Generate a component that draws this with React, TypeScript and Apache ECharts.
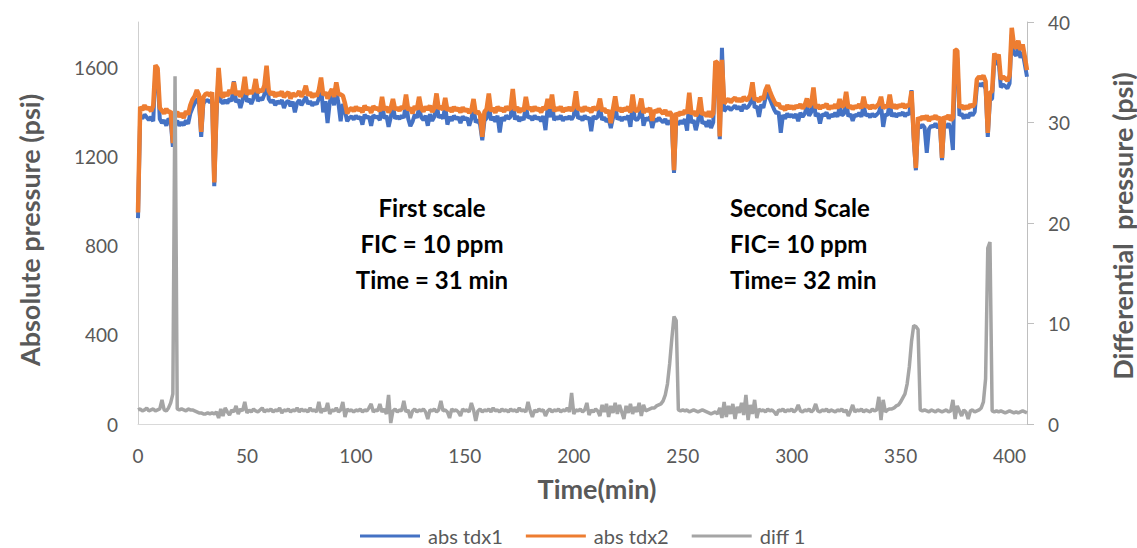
import React, { useEffect, useRef } from "react";
import * as echarts from "echarts";

// Sampled once per minute, t = 0 .. 408 min
const absTdx1: number[] = [
  925, 1385, 1372, 1390, 1378, 1365, 1380, 1360, 1590, 1575,
  1370, 1352, 1365, 1340, 1372, 1360, 1245, 1350, 1362, 1340,
  1355, 1342, 1365, 1348, 1395, 1420, 1440, 1462, 1440, 1290,
  1440, 1452, 1455, 1445, 1458, 1068, 1380, 1580, 1450, 1440,
  1455, 1440, 1462, 1450, 1540, 1445, 1458, 1420, 1455, 1530,
  1448, 1460, 1438, 1462, 1545, 1450, 1465, 1455, 1480, 1590,
  1460, 1445, 1455, 1432, 1450, 1440, 1455, 1420, 1445, 1452,
  1428, 1448, 1400, 1442, 1455, 1432, 1450, 1470, 1438, 1450,
  1430, 1445, 1436, 1462, 1520, 1400, 1450, 1352, 1445, 1480,
  1432, 1500, 1440, 1360, 1438, 1405, 1360, 1375, 1382, 1368,
  1385, 1372, 1380, 1345, 1390, 1375, 1382, 1340, 1388, 1378,
  1380, 1365, 1455, 1372, 1385, 1335, 1378, 1430, 1372, 1382,
  1370, 1386, 1375, 1450, 1372, 1338, 1358, 1390, 1375, 1420,
  1378, 1365, 1385, 1340, 1392, 1362, 1380, 1450, 1376, 1388,
  1372, 1430, 1345, 1380, 1362, 1385, 1370, 1378, 1352, 1382,
  1368, 1376, 1340, 1372, 1420, 1355, 1366, 1345, 1275, 1362,
  1375, 1440, 1365, 1380, 1358, 1385, 1310, 1378, 1362, 1386,
  1372, 1380, 1470, 1368, 1384, 1360, 1378, 1366, 1430, 1375,
  1382, 1365, 1386, 1370, 1378, 1360, 1384, 1320, 1420, 1378,
  1440, 1365, 1380, 1370, 1386, 1362, 1378, 1370, 1382, 1368,
  1385, 1460, 1372, 1380, 1364, 1386, 1370, 1378, 1315, 1384,
  1372, 1380, 1425, 1366, 1378, 1358, 1370, 1330, 1375, 1435,
  1368, 1380, 1362, 1378, 1370, 1385, 1335, 1440, 1372, 1365,
  1380, 1425, 1340, 1375, 1365, 1380, 1330, 1370, 1360, 1376,
  1364, 1355, 1370, 1345, 1362, 1350, 1128, 1358, 1345, 1362,
  1350, 1370, 1318, 1450, 1352, 1365, 1320, 1360, 1430, 1350,
  1358, 1335, 1365, 1330, 1355, 1600, 1590, 1280, 1690, 1405,
  1418, 1425, 1410, 1420, 1430, 1415, 1426, 1405, 1435, 1418,
  1425, 1440, 1520, 1420, 1428, 1380, 1435, 1420, 1465, 1490,
  1460, 1435, 1412, 1395, 1402, 1308, 1388, 1372, 1395, 1380,
  1390, 1376, 1392, 1360, 1398, 1380, 1394, 1428, 1385, 1402,
  1480, 1382, 1396, 1350, 1392, 1386, 1400, 1372, 1390, 1382,
  1398, 1380, 1425, 1386, 1394, 1455, 1382, 1392, 1362, 1390,
  1384, 1398, 1380, 1435, 1386, 1392, 1378, 1394, 1382, 1390,
  1400, 1432, 1335, 1392, 1386, 1445, 1382, 1396, 1380, 1394,
  1388, 1400, 1382, 1396, 1390, 1500, 1280, 1140, 1340, 1330,
  1345, 1332, 1218, 1325, 1340, 1335, 1350, 1330, 1342, 1185,
  1345, 1332, 1350, 1325, 1231, 1650, 1645, 1385, 1395, 1372,
  1390, 1375, 1398, 1386, 1402, 1515, 1528, 1520, 1532, 1505,
  1290, 1455, 1462, 1640, 1615, 1630, 1512, 1525, 1518, 1508,
  1530, 1750, 1665, 1655, 1690, 1645, 1672, 1615, 1560,
];

const absTdx2: number[] = [
  950, 1425, 1410, 1432, 1415, 1422, 1405, 1430, 1612, 1598,
  1420, 1408, 1395, 1416, 1400, 1405, 1262, 1390, 1402, 1380,
  1396, 1375, 1405, 1390, 1432, 1458, 1472, 1500, 1478, 1312,
  1468, 1482, 1486, 1474, 1490, 1085, 1410, 1600, 1482, 1468,
  1490, 1474, 1500, 1485, 1536, 1478, 1496, 1470, 1492, 1560,
  1480, 1498, 1485, 1500, 1550, 1488, 1502, 1494, 1520, 1610,
  1498, 1480, 1492, 1470, 1488, 1476, 1494, 1468, 1482, 1490,
  1462, 1486, 1474, 1480, 1495, 1470, 1488, 1520, 1476, 1490,
  1468, 1484, 1472, 1500, 1556, 1478, 1490, 1462, 1486, 1505,
  1470, 1535, 1482, 1480, 1475, 1440, 1395, 1412, 1420, 1405,
  1425, 1410, 1418, 1400, 1430, 1412, 1422, 1398, 1428, 1415,
  1420, 1405, 1470, 1410, 1425, 1400, 1418, 1460, 1412, 1422,
  1408, 1426, 1415, 1480, 1410, 1420, 1395, 1428, 1412, 1470,
  1418, 1404, 1425, 1412, 1430, 1402, 1420, 1485, 1415, 1428,
  1412, 1465, 1408, 1420, 1402, 1424, 1410, 1418, 1400, 1422,
  1406, 1415, 1398, 1410, 1460, 1395, 1405, 1388, 1290, 1402,
  1415, 1485, 1405, 1420, 1398, 1425, 1410, 1418, 1402, 1426,
  1412, 1420, 1505, 1408, 1424, 1400, 1418, 1406, 1470, 1415,
  1422, 1405, 1426, 1410, 1418, 1400, 1424, 1412, 1460, 1418,
  1480, 1405, 1420, 1410, 1426, 1402, 1418, 1410, 1422, 1408,
  1425, 1495, 1412, 1420, 1404, 1426, 1410, 1418, 1400, 1424,
  1412, 1420, 1462, 1406, 1418, 1398, 1410, 1352, 1415, 1472,
  1408, 1420, 1402, 1418, 1410, 1425, 1400, 1480, 1412, 1405,
  1420, 1462, 1398, 1415, 1405, 1420, 1362, 1410, 1400, 1416,
  1404, 1395, 1410, 1385, 1402, 1390, 1140, 1398, 1385, 1402,
  1390, 1410, 1395, 1488, 1392, 1405, 1385, 1400, 1468, 1390,
  1398, 1382, 1405, 1380, 1395, 1630, 1622, 1292, 1636, 1440,
  1452, 1460, 1445, 1458, 1466, 1450, 1462, 1448, 1470, 1455,
  1460, 1478, 1535, 1456, 1462, 1448, 1470, 1458, 1500, 1522,
  1495, 1470, 1450, 1432, 1440, 1418, 1425, 1410, 1432, 1418,
  1428, 1415, 1430, 1422, 1436, 1418, 1432, 1462, 1425, 1440,
  1512, 1420, 1434, 1416, 1430, 1424, 1438, 1415, 1428, 1420,
  1435, 1418, 1460, 1425, 1432, 1492, 1420, 1430, 1415, 1428,
  1422, 1436, 1418, 1470, 1425, 1430, 1416, 1432, 1420, 1428,
  1438, 1470, 1418, 1430, 1424, 1480, 1420, 1435, 1418, 1432,
  1426, 1438, 1420, 1434, 1428, 1495, 1300, 1150, 1378, 1365,
  1382, 1370, 1385, 1362, 1378, 1372, 1386, 1368, 1380, 1195,
  1382, 1370, 1388, 1365, 1376, 1682, 1678, 1420, 1432, 1415,
  1428, 1418, 1435, 1425, 1440, 1548, 1560, 1552, 1565, 1540,
  1308, 1488, 1495, 1665, 1640, 1660, 1548, 1560, 1552, 1542,
  1565, 1780, 1700, 1688, 1722, 1680, 1705, 1650, 1590,
];

const diff1: number[] = [
  1.4, 1.5, 1.3, 1.4, 1.6, 1.3, 1.4, 1.5, 1.3, 1.4,
  1.5, 2.4, 1.4, 1.3, 1.6, 2.1, 3.0, 34.6, 1.5, 1.4,
  1.5, 1.4, 1.3, 1.5, 1.4, 1.4, 1.3, 1.2, 1.1, 1.1,
  1.0, 1.0, 1.1, 1.0, 1.1, 1.0, 1.2, 0.6, 1.5, 0.8,
  1.6, 1.2, 0.9, 1.4, 1.2, 1.8, 1.0, 1.5, 1.3, 2.2,
  1.1, 1.4, 1.2, 1.5, 1.3, 1.2, 1.4, 1.6, 1.2, 1.4,
  1.3, 1.5, 1.2, 1.4, 1.3, 1.6, 1.1, 1.4, 1.3, 1.5,
  1.2, 1.4, 1.3, 1.6, 1.2, 1.5, 1.3, 1.4, 1.2, 1.6,
  1.3, 1.4, 1.2, 2.2, 1.1, 1.5, 1.3, 2.1, 1.0, 1.4,
  1.3, 1.6, 1.2, 1.4, 2.2, 0.7, 1.5, 1.3, 1.4, 1.2,
  1.4, 1.3, 1.5, 1.2, 1.4, 1.3, 1.6, 2.0, 1.2, 1.4,
  1.3, 2.0, 1.2, 1.5, 1.0, 2.9, 0.1, 1.3, 1.5, 1.2,
  1.4, 1.3, 2.3, 1.2, 1.4, 0.6, 1.3, 1.5, 1.2, 1.4,
  1.3, 1.5, 1.2, 0.5, 1.4, 1.3, 1.5, 1.2, 1.4, 2.3,
  1.3, 1.4, 1.2, 0.6, 1.5, 1.3, 1.4, 1.2, 0.8, 1.5,
  1.3, 1.4, 1.2, 2.1, 1.4, 0.3, 1.3, 1.5, 1.2, 1.4,
  1.3, 1.5, 1.2, 1.6, 1.3, 1.4, 1.2, 1.5, 1.3, 1.4,
  1.2, 1.5, 1.3, 1.4, 1.2, 1.6, 1.3, 1.4, 1.2, 2.2,
  1.3, 0.7, 1.4, 1.2, 1.5, 1.3, 1.4, 0.8, 1.3, 1.5,
  1.2, 1.4, 1.3, 1.5, 1.2, 1.4, 1.3, 1.6, 1.2, 3.1,
  1.0, 1.4, 1.3, 1.5, 1.2, 1.4, 2.1, 0.9, 1.4, 1.2,
  1.5, 1.3, 0.8, 1.9, 1.2, 2.0, 0.7, 1.8, 1.1, 2.1,
  1.0, 1.9, 1.2, 0.5, 1.8, 1.1, 2.0, 1.0, 1.7, 1.2,
  2.1, 0.8, 1.9, 1.3, 1.4, 1.5, 1.6, 1.6, 1.8, 1.9,
  2.0, 2.3, 2.9, 4.0, 6.0, 8.5, 10.7, 10.3, 1.4, 1.3,
  1.4, 1.3, 1.4, 1.2, 1.3, 1.4, 1.3, 1.2, 1.3, 1.4,
  1.3, 1.2, 1.1, 1.0, 1.1, 1.2, 1.0, 1.6, 0.6, 2.2,
  0.7, 1.8, 1.0, 2.0, 0.5, 1.7, 1.1, 2.1, 0.9, 2.9,
  0.4, 1.9, 1.0, 2.4, 0.6, 1.5, 1.3, 1.4, 1.2, 1.5,
  1.3, 1.4, 1.2, 0.9, 1.4, 1.3, 1.5, 1.2, 1.4, 1.3,
  1.5, 1.2, 1.4, 1.9, 1.3, 1.2, 1.4, 1.3, 1.5, 1.2,
  1.4, 2.0, 1.3, 1.2, 1.4, 1.3, 1.5, 1.2, 1.4, 1.3,
  1.2, 1.4, 1.3, 1.5, 1.2, 1.4, 0.8, 1.3, 1.9, 1.2,
  1.4, 1.3, 1.5, 1.2, 1.4, 1.3, 1.2, 1.5, 1.3, 1.4,
  2.7, 0.4, 2.4, 1.2, 1.4, 1.5, 1.5, 1.6, 1.8, 1.9,
  2.2, 2.6, 3.0, 4.0, 5.7, 8.2, 9.8, 9.7, 9.4, 1.4,
  1.3, 1.4, 1.3, 1.2, 1.4, 1.3, 1.2, 1.4, 1.3, 1.2,
  1.3, 1.4, 1.2, 1.3, 2.4, 0.5, 1.8, 1.3, 0.8, 1.4,
  1.2, 0.5, 1.3, 1.4, 1.2, 1.3, 1.4, 1.6, 2.2, 4.5,
  17.5, 18.1, 1.3, 1.2, 1.3, 1.2, 1.3, 1.2, 1.1, 1.2,
  1.3, 1.2, 1.1, 1.2, 1.1, 1.2, 1.3, 1.2, 1.1,
];

const xTicks = [0, 50, 100, 150, 200, 250, 300, 350, 400];
const leftTicks = [0, 400, 800, 1200, 1600];
const rightTicks = [0, 10, 20, 30, 40];

const seriesNames = ["abs tdx1", "abs tdx2", "diff 1"];
const seriesColors = ["#4472C4", "#ED7D31", "#A5A5A5"];

const note1 = ["First scale", "FIC = 10 ppm", "Time = 31 min"];
const note2 = ["Second Scale", "FIC= 10 ppm", "Time= 32 min"];

const FONT = "Lato, 'Open Sans', sans-serif";

export default function App() {
  const ref = useRef<HTMLDivElement>(null);

  useEffect(() => {
    document.body.style.margin = "0";
    if (!ref.current) return;
    const chart = echarts.init(ref.current, undefined, { renderer: "svg" });

    const toPairs = (arr: number[]) => arr.map((v, i) => [i, v]);
    const lineY = [207.5, 243.5, 279.5];

    const option: any = {
      animation: false,
      backgroundColor: "#ffffff",
      textStyle: { fontFamily: FONT },
      grid: { left: 138, right: 110, top: 22, bottom: 124 },
      legend: {
        left: 360,
        top: 526,
        padding: 0,
        itemWidth: 60,
        itemHeight: 14,
        itemGap: 23,
        data: seriesNames.map((n, i) => ({
          name: n,
          icon: "path://M0,6 L60,6 L60,9 L0,9 Z",
          itemStyle: { color: seriesColors[i] },
        })),
        textStyle: {
          color: "#595959",
          fontSize: 20,
          lineHeight: 20,
          fontFamily: FONT,
          padding: [0, 0, 0, 3],
        },
      },
      xAxis: {
        type: "value",
        min: 0,
        max: 408,
        interval: 50,
        axisLine: { show: true, lineStyle: { color: "#d9d9d9", width: 1 } },
        axisTick: { show: false },
        splitLine: { show: false },
        axisLabel: {
          color: "#595959",
          fontSize: 19,
          fontFamily: FONT,
          margin: 22,
          formatter: (v: number) => (xTicks.includes(v) ? String(v) : ""),
        },
      },
      yAxis: [
        {
          type: "value",
          min: 0,
          max: 1806,
          interval: 400,
          position: "left",
          axisLine: { show: true, lineStyle: { color: "#cfcfcf", width: 1 } },
          axisTick: { show: false },
          splitLine: { show: false },
          axisLabel: {
            color: "#595959",
            fontSize: 19,
            fontFamily: FONT,
            margin: 20,
            formatter: (v: number) => (leftTicks.includes(v) ? String(v) : ""),
          },
        },
        {
          type: "value",
          min: 0,
          max: 40,
          interval: 10,
          position: "right",
          axisLine: { show: true, lineStyle: { color: "#bfbfbf", width: 1 } },
          axisTick: { show: true, inside: false, length: 7, lineStyle: { color: "#bfbfbf" } },
          splitLine: { show: false },
          axisLabel: {
            color: "#595959",
            fontSize: 19,
            fontFamily: FONT,
            margin: 21,
            formatter: (v: number) => (rightTicks.includes(v) ? String(v) : ""),
          },
        },
      ],
      series: [
        {
          name: seriesNames[0],
          type: "line",
          yAxisIndex: 0,
          data: toPairs(absTdx1),
          showSymbol: false,
          symbol: "none",
          lineStyle: { color: seriesColors[0], width: 4 },
          itemStyle: { color: seriesColors[0] },
          z: 2,
        },
        {
          name: seriesNames[1],
          type: "line",
          yAxisIndex: 0,
          data: toPairs(absTdx2),
          showSymbol: false,
          symbol: "none",
          lineStyle: { color: seriesColors[1], width: 4.5 },
          itemStyle: { color: seriesColors[1] },
          z: 3,
        },
        {
          name: seriesNames[2],
          type: "line",
          yAxisIndex: 1,
          data: toPairs(diff1),
          showSymbol: false,
          symbol: "none",
          lineStyle: { color: seriesColors[2], width: 3.5 },
          itemStyle: { color: seriesColors[2] },
          z: 4,
        },
      ],
      graphic: [
        {
          type: "text",
          x: 29,
          y: 230,
          rotation: Math.PI / 2,
          style: {
            text: "Absolute pressure (psi)",
            fill: "#595959",
            font: `bold 27px ${FONT}`,
            textAlign: "center",
            textVerticalAlign: "middle",
          },
        },
        {
          type: "text",
          x: 1122,
          y: 226,
          rotation: Math.PI / 2,
          style: {
            text: "Differential  pressure (psi)",
            fill: "#595959",
            font: `bold 27px ${FONT}`,
            textAlign: "center",
            textVerticalAlign: "middle",
          },
        },
        {
          type: "text",
          x: 597,
          y: 488,
          style: {
            text: "Time(min)",
            fill: "#595959",
            font: `bold 27px ${FONT}`,
            textAlign: "center",
            textVerticalAlign: "middle",
          },
        },
        ...note1.map((t, i) => ({
          type: "text",
          x: 432,
          y: lineY[i],
          z: 10,
          style: {
            text: t,
            fill: "#000000",
            font: `bold 24px ${FONT}`,
            textAlign: "center",
            textVerticalAlign: "middle",
          },
        })),
        ...note2.map((t, i) => ({
          type: "text",
          x: 730,
          y: lineY[i],
          z: 10,
          style: {
            text: t,
            fill: "#000000",
            font: `bold 24px ${FONT}`,
            textAlign: "left",
            textVerticalAlign: "middle",
          },
        })),
      ],
    };

    chart.setOption(option);
    return () => chart.dispose();
  }, []);

  return <div ref={ref} style={{ width: 1137, height: 548 }} />;
}
